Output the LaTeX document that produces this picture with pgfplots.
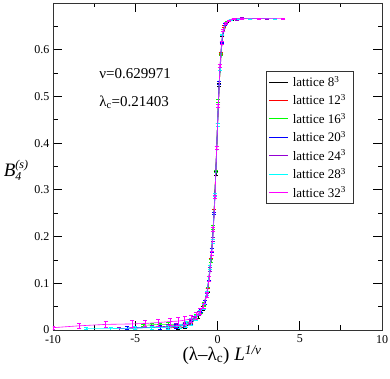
\documentclass[border=0pt]{standalone}
\usepackage{fontspec}
\setmainfont{Liberation Serif}
\usepackage{pgfplots}
\pgfplotsset{compat=1.18}
\definecolor{gblack}{RGB}{0,0,0}
\definecolor{gred}{RGB}{255,0,0}
\definecolor{ggreen}{RGB}{0,255,0}
\definecolor{gblue}{RGB}{0,0,255}
\definecolor{gviolet}{RGB}{148,0,211}
\definecolor{gcyan}{RGB}{0,255,255}
\definecolor{gmagenta}{RGB}{255,0,255}

\pgfplotstableread{
x y ey
-2.4 0.003 0.002
-2.0 0.006 0.003
-1.6 0.014 0.004
-1.2 0.030 0.004
-0.9 0.047 0.004
-0.6 0.085 0.004
-0.3 0.19 0.004
-0.1 0.335 0.004
0.1 0.525 0.003
0.3 0.630 0.002
0.6 0.660 0.001
0.9 0.665 0.001
1.2 0.666 0.002
1.5 0.667 0.002
}\Lviii
\pgfplotstableread{
x y ey
-3.0 0.004 0.003
-2.5 0.006 0.003
-2.0 0.010 0.004
-1.6 0.018 0.004
-1.3 0.028 0.005
-1.0 0.042 0.005
-0.8 0.056 0.004
-0.6 0.086 0.004
-0.4 0.15 0.004
-0.2 0.255 0.004
0.0 0.44 0.003
0.2 0.592 0.002
0.4 0.650 0.002
0.7 0.663 0.001
1.0 0.666 0.001
1.5 0.667 0.001
2.0 0.667 0.001
}\Lxii
\pgfplotstableread{
x y ey
-4.5 0.010 0.003
-4.0 0.011 0.003
-3.5 0.012 0.003
-3.0 0.012 0.004
-2.5 0.011 0.004
-2.0 0.013 0.004
-1.6 0.020 0.004
-1.3 0.030 0.004
-1.0 0.040 0.004
-0.8 0.055 0.004
-0.6 0.088 0.004
-0.4 0.148 0.004
-0.25 0.22 0.004
-0.1 0.34 0.003
0.05 0.49 0.003
0.2 0.59 0.002
0.35 0.642 0.002
0.6 0.661 0.001
1.0 0.666 0.001
1.5 0.667 0.001
2.5 0.667 0.001
}\Lxvi
\pgfplotstableread{
x y ey
-5.5 0.004 0.003
-5.0 0.005 0.004
-4.0 0.005 0.004
-3.5 0.006 0.004
-3.0 0.006 0.004
-2.5 0.008 0.004
-2.0 0.010 0.004
-1.6 0.016 0.004
-1.3 0.027 0.004
-1.0 0.041 0.004
-0.75 0.060 0.004
-0.5 0.11 0.004
-0.35 0.17 0.004
-0.2 0.25 0.003
-0.05 0.39 0.003
0.1 0.53 0.003
0.25 0.615 0.002
0.45 0.654 0.002
0.7 0.663 0.001
1.1 0.666 0.001
2.0 0.667 0.001
3.0 0.667 0.001
}\Lxx
\pgfplotstableread{
x y ey
-6.0 0.003 0.003
-5.0 0.004 0.003
-4.0 0.006 0.004
-3.0 0.008 0.004
-2.5 0.010 0.004
-2.0 0.012 0.004
-1.7 0.017 0.005
-1.4 0.025 0.005
-1.1 0.036 0.005
-0.85 0.052 0.005
-0.65 0.075 0.004
-0.45 0.13 0.004
-0.3 0.195 0.004
-0.15 0.29 0.003
0.0 0.44 0.003
0.15 0.565 0.003
0.3 0.632 0.002
0.5 0.657 0.001
0.8 0.665 0.001
1.2 0.666 0.002
1.5 0.667 0.002
3.0 0.667 0.001
}\Lxxiv
\pgfplotstableread{
x y ey
-8.0 0.003 0.002
-6.5 0.003 0.003
-5.0 0.004 0.003
-4.0 0.005 0.004
-3.0 0.006 0.004
-2.3 0.008 0.005
-1.9 0.012 0.006
-1.6 0.018 0.007
-1.3 0.026 0.006
-1.05 0.038 0.005
-0.85 0.050 0.005
-0.65 0.078 0.004
-0.45 0.135 0.004
-0.3 0.19 0.004
-0.15 0.29 0.003
0.0 0.44 0.003
0.15 0.56 0.003
0.3 0.632 0.002
0.5 0.657 0.002
0.8 0.664 0.001
1.3 0.666 0.001
2.0 0.667 0.001
3.5 0.667 0.001
}\Lxxviii
\pgfplotstableread{
x y ey
-10 0.005 0.003
-8.4 0.009 0.006
-6.8 0.012 0.007
-5.2 0.013 0.007
-4.4 0.014 0.007
-3.6 0.016 0.007
-2.9 0.018 0.008
-2.4 0.019 0.008
-2.0 0.021 0.008
-1.6 0.024 0.008
-1.3 0.030 0.007
-1.05 0.040 0.006
-0.85 0.052 0.006
-0.65 0.075 0.005
-0.5 0.11 0.005
-0.35 0.165 0.004
-0.25 0.215 0.004
-0.15 0.285 0.004
-0.05 0.39 0.004
0.05 0.48 0.003
0.15 0.565 0.003
0.25 0.615 0.003
0.35 0.642 0.002
0.5 0.657 0.002
0.7 0.663 0.001
1.0 0.666 0.001
1.5 0.667 0.001
2.5 0.667 0.001
4.0 0.667 0.001
}\Lxxxii

\begin{document}
\begin{tikzpicture}
\begin{axis}[
  scale only axis, width=329pt, height=327pt,
  xmin=-10, xmax=10, ymin=0, ymax=0.7,
  xtick={-10,-5,0,5,10}, minor x tick num=1,
  ytick={0,0.1,0.2,0.3,0.4,0.5,0.6}, minor ytick={0.05,0.15,0.25,0.35,0.45,0.55,0.65},
  tick align=inside, major tick length=9pt, minor tick length=4.5pt,
  axis line style={line width=0.9pt, black!80}, every tick/.style={line width=0.8pt, black},
  tick label style={font=\fontsize{12}{14}\selectfont},
  xticklabel style={yshift=-1.5pt},
  /pgf/number format/assume math mode=true,
  yticklabel style={/pgf/number format/fixed, /pgf/number format/precision=1},
  xlabel={(λ–λ\textsubscript{c}) \textit{L}\textsuperscript{\textit{1/ν}}},
  ylabel={\textit{B}$_{\mbox{\fontsize{12}{12}\selectfont\textit{4}}}^{\mbox{\fontsize{12}{12}\selectfont\textit{(s)}}}$},
  label style={font=\fontsize{19}{21}\selectfont},
  xlabel style={at={(axis description cs:0.514,-0.076)}, anchor=center},
  ylabel style={at={(axis description cs:-0.112,0.489)}, anchor=center, rotate=-90},
  legend style={at={(axis cs:8.25,0.555)}, anchor=north east, draw=black!80, line width=0.6pt,
    font=\fontsize{13}{14}\selectfont, row sep=2.6pt, inner sep=3pt,
    nodes={inner xsep=4pt}},
  legend cell align=left,
  every axis plot/.append style={line width=0.6pt, mark=none,
    error bars/y dir=both, error bars/y explicit,
    error bars/error mark options={rotate=90, mark size=2pt, line width=0.5pt},
    error bars/error bar style={line width=0.5pt}},
]
\addplot[gblack, forget plot] table[x=x, y=y, y error=ey] {\Lviii};
\addplot[gred, forget plot] table[x=x, y=y, y error=ey] {\Lxii};
\addplot[ggreen, forget plot] table[x=x, y=y, y error=ey] {\Lxvi};
\addplot[gblue, forget plot] table[x=x, y=y, y error=ey] {\Lxx};
\addplot[gviolet, forget plot] table[x=x, y=y, y error=ey] {\Lxxiv};
\addplot[gcyan, forget plot] table[x=x, y=y, y error=ey] {\Lxxviii};
\addplot[gmagenta, forget plot] table[x=x, y=y, y error=ey] {\Lxxxii};
\addlegendimage{legend image code/.code={\draw[gblack, line width=0.9pt] (0pt,0pt) -- (19pt,0pt);}}
\addlegendentry{lattice 8\textsuperscript{3}}
\addlegendimage{legend image code/.code={\draw[gred, line width=0.9pt] (0pt,0pt) -- (19pt,0pt);}}
\addlegendentry{lattice 12\textsuperscript{3}}
\addlegendimage{legend image code/.code={\draw[ggreen, line width=0.9pt] (0pt,0pt) -- (19pt,0pt);}}
\addlegendentry{lattice 16\textsuperscript{3}}
\addlegendimage{legend image code/.code={\draw[gblue, line width=0.9pt] (0pt,0pt) -- (19pt,0pt);}}
\addlegendentry{lattice 20\textsuperscript{3}}
\addlegendimage{legend image code/.code={\draw[gviolet, line width=0.9pt] (0pt,0pt) -- (19pt,0pt);}}
\addlegendentry{lattice 24\textsuperscript{3}}
\addlegendimage{legend image code/.code={\draw[gcyan, line width=0.9pt] (0pt,0pt) -- (19pt,0pt);}}
\addlegendentry{lattice 28\textsuperscript{3}}
\addlegendimage{legend image code/.code={\draw[gmagenta, line width=0.9pt] (0pt,0pt) -- (19pt,0pt);}}
\addlegendentry{lattice 32\textsuperscript{3}}
\node[anchor=west, font=\fontsize{15}{16}\selectfont] at (axis cs:-7.4,0.549) {ν=0.629971};
\node[anchor=west, font=\fontsize{15}{16}\selectfont] at (axis cs:-7.4,0.487) {λ\textsubscript{c}=0.21403};
\end{axis}
\pgfresetboundingbox
\path[use as bounding box] ([shift={(-53pt,-49pt)}]current axis.south west) rectangle ([shift={(8pt,3pt)}]current axis.north east);
\end{tikzpicture}
\end{document}
